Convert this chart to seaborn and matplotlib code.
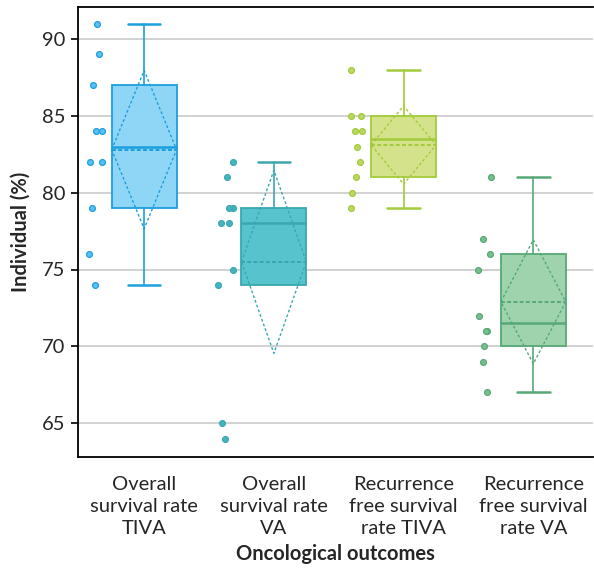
import numpy as np
import pandas as pd
import matplotlib
matplotlib.use("Agg")
import matplotlib.pyplot as plt
import seaborn as sns

# ---------------- data ----------------
categories = ["Overall\nsurvival rate\nTIVA", "Overall\nsurvival rate\nVA",
              "Recurrence\nfree survival\nrate TIVA", "Recurrence\nfree survival\nrate VA"]
os_tiva = [91, 89, 87, 84, 84, 82, 82, 79, 76, 74]
os_va = [82, 81, 79, 79, 78, 78, 75, 74, 65, 64]
rfs_tiva = [88, 85, 85, 84, 84, 83, 82, 81, 80, 79]
rfs_va = [81, 77, 76, 75, 72, 71, 71, 70, 69, 67]
yticks = [65, 70, 75, 80, 85, 90]

groups = [os_tiva, os_va, rfs_tiva, rfs_va]
fill_colors = ["#8fd6f6", "#56c3cd", "#d4e38b", "#9ed3ae"]
edge_colors = ["#1b9fdf", "#3aa7b0", "#a3cb3b", "#56a977"]
point_colors = ["#5cc1f0", "#44b5bf", "#bcd862", "#78bf8e"]

df = pd.DataFrame({
    "group": np.repeat(categories, [len(g) for g in groups]),
    "value": np.concatenate(groups),
})

sns.set_style("white")
plt.rcParams["font.family"] = ["Lato", "DejaVu Sans"]

fig = plt.figure(figsize=(5.94, 5.70), dpi=100)
ax = fig.add_axes([78 / 594, (570 - 457) / 570, (593 - 78) / 594, (457 - 7) / 570])


def hinges(vals):
    v = np.sort(np.asarray(vals, float))
    n = len(v)
    half = n // 2 if n % 2 == 0 else (n + 1) // 2
    return np.median(v[:half]), np.median(v), np.median(v[-half:])


# ---------------- points ----------------
for i, (cat, vals) in enumerate(zip(categories, groups)):
    sub = df[df["group"] == cat]
    n_before = len(ax.collections)
    np.random.seed(3 + i)
    sns.stripplot(data=sub, x="group", y="value", order=categories, ax=ax,
                  color=point_colors[i], edgecolor=edge_colors[i], linewidth=0.9,
                  size=4.2, jitter=0.06, zorder=3)
    for coll in ax.collections[n_before:]:
        off = coll.get_offsets()
        off[:, 0] -= 0.37
        coll.set_offsets(off)

# ---------------- boxes ----------------
stats = []
for vals in groups:
    v = np.asarray(vals, float)
    q1, med, q3 = hinges(v)
    iqr = q3 - q1
    lo = v[v >= q1 - 1.5 * iqr].min()
    hi = v[v <= q3 + 1.5 * iqr].max()
    stats.append(dict(med=med, q1=q1, q3=q3, whislo=lo, whishi=hi, fliers=[]))

bp = ax.bxp(stats, positions=range(len(groups)), widths=0.5, patch_artist=True,
            showfliers=False, manage_ticks=False, zorder=2)
for i in range(len(groups)):
    bp["boxes"][i].set(facecolor=fill_colors[i], edgecolor=edge_colors[i], linewidth=1.3)
    bp["medians"][i].set(color=edge_colors[i], linewidth=1.8)
    for j, k in enumerate((2 * i, 2 * i + 1)):
        bp["whiskers"][k].set(color=edge_colors[i], linewidth=1.2)
        bp["caps"][k].set(color=edge_colors[i], linewidth=1.8)
        st = stats[i]
        if (j == 0 and st["whislo"] == st["q1"]) or (j == 1 and st["whishi"] == st["q3"]):
            bp["caps"][k].set_visible(False)
            bp["whiskers"][k].set_visible(False)

# mean +/- SD diamonds
for i, vals in enumerate(groups):
    v = np.asarray(vals, float)
    m, s = v.mean(), v.std()
    ax.plot([i - 0.25, i, i + 0.25, i, i - 0.25], [m, m + s, m, m - s, m],
            color=edge_colors[i], linestyle=(0, (2, 1.6)), linewidth=1.0, zorder=4)
    ax.plot([i - 0.25, i + 0.25], [m, m], color=edge_colors[i],
            linestyle=(0, (2, 1.2)), linewidth=1.4, zorder=4)

# ---------------- axes ----------------
ax.set_xlim(-0.51, 3.46)
ax.set_ylim(62.8, 92.08)
ax.set_yticks(yticks)
ax.set_yticklabels([str(t) for t in yticks])
ax.set_xticks(range(len(categories)))
ax.set_xticklabels(categories, fontsize=14.5, linespacing=1.33)
ax.tick_params(axis="y", labelsize=14.5, length=5, width=1.2, left=True, color="black", pad=4)
ax.tick_params(axis="x", length=0, pad=14)
ax.yaxis.grid(True, color="#c9c9c9", linewidth=1.2)
ax.set_axisbelow(True)
for side in ("left", "bottom", "top"):
    ax.spines[side].set_color("black")
    ax.spines[side].set_linewidth(1.3)
ax.spines["right"].set_visible(False)
ax.set_xlabel("Oncological outcomes", fontsize=14.5, fontweight="bold", labelpad=5)
ax.set_ylabel("Individual (%)", fontsize=14.5, fontweight="bold", labelpad=8)

fig.savefig("out.png", dpi=100)
